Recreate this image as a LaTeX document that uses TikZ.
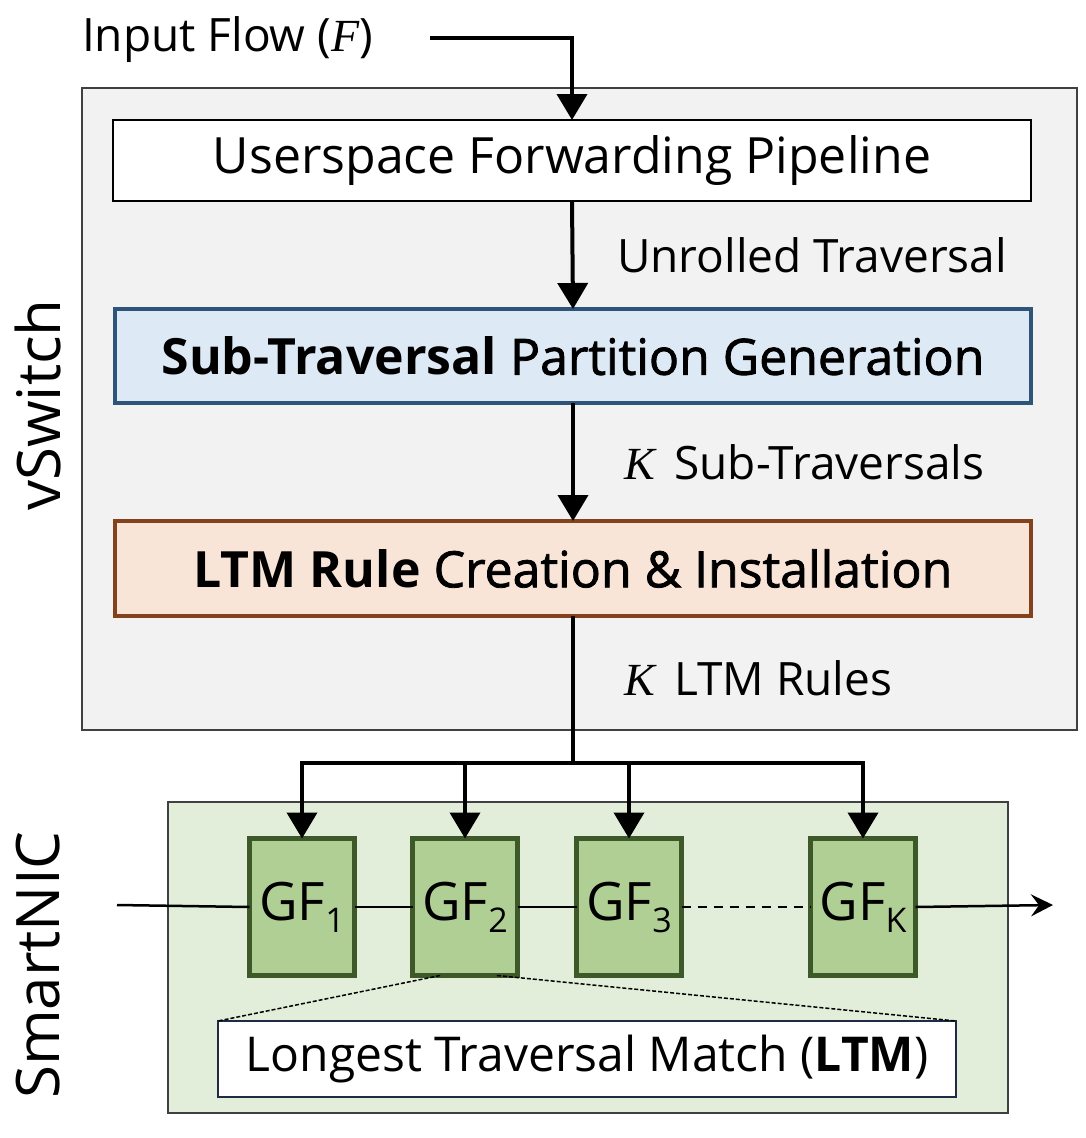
\documentclass[tikz,border=0pt]{standalone}
\usepackage{fontspec}
\setmainfont{Open Sans}
\newfontfamily\varfont{Liberation Serif}
\usetikzlibrary{arrows.meta}
\usetikzlibrary{positioning}

\definecolor{vswFill}{HTML}{F2F2F2}
\definecolor{nicFill}{HTML}{E2EEDA}
\definecolor{partFill}{HTML}{DDEAF6}
\definecolor{partLine}{HTML}{2E5579}
\definecolor{ruleFill}{HTML}{F9E5D8}
\definecolor{ruleLine}{HTML}{84421C}
\definecolor{gfFill}{HTML}{B0CF94}
\definecolor{gfLine}{HTML}{3D5829}
\definecolor{matchLine}{HTML}{1F2A44}

% half-bold text
\newcommand{\semib}{\addfontfeature{FakeBold=1.6}}
% subscript of a GF box
\newcommand{\gfsub}[1]{\raisebox{-12pt}{\fontsize{34}{38}\selectfont #1}}
% italic variable
\newcommand{\var}[1]{{\varfont\itshape #1}}

\begin{document}
\begin{tikzpicture}
[
x=1pt, y=-1pt,
every node/.style={inner sep=0pt, outer sep=0pt},
areaBox/.style={
	draw=black!75,
	line width=1.2pt},
stageBox/.style={
	rectangle,
	minimum width=918pt,
	font=\fontsize{50}{58}\selectfont},
gfBox/.style={
	rectangle,
	draw=gfLine,
	fill=gfFill,
	line width=5pt,
	minimum width=105pt,
	minimum height=137pt,
	font=\fontsize{53}{60}\selectfont},
lbl/.style={
	anchor=west,
	font=\fontsize{46}{54}\selectfont},
side/.style={
	rotate=90,
	font=\fontsize{60}{68}\selectfont},
regArr/.style={
	-{Triangle[length=26pt,width=30pt]},
	line width=4pt},
flowArr/.style={
	line width=2.5pt}
]
\useasboundingbox (0,0) rectangle (1085,1138);

% areas
\draw [areaBox, fill=vswFill] (82,88) rectangle (1077,730);
\draw [areaBox, fill=nicFill] (168,802) rectangle (1008,1113);

\node [side] (vsw) at (38,405) {vSwitch};
\node [side] (snic) at (38,965) {SmartNIC};

% vSwitch stages
\node [lbl] (inFlow) at (82,40) {Input Flow (\var{F})};
\coordinate (inStart) at (430,38);

\node [stageBox, draw=black, fill=white, line width=2.5pt, minimum height=81pt]
	(userPipe) at (572,160.5) {Userspace Forwarding Pipeline};
\node [stageBox, draw=partLine, fill=partFill, line width=4pt, minimum height=94pt, minimum width=916pt]
	(subPart) at (573,356) {\textbf{Sub-Traversal} {\semib Partition Generation}};
\node [stageBox, draw=ruleLine, fill=ruleFill, line width=4pt, minimum height=95pt, minimum width=916pt]
	(ltmCreate) at (573,568.5) {\textbf{LTM Rule} {\semib Creation \& Installation}};

\node [lbl] (lblUnroll) at (617,255) {Unrolled Traversal};
\node [lbl] (lblSub) at (624,462) {\var{K}\, Sub-Traversals};
\node [lbl] (lblRules) at (624,678) {\var{K}\, LTM Rules};

\draw [regArr] (inStart) -| (userPipe.north);
\draw [regArr] (userPipe.south) -- (subPart.north);
\draw [regArr] (subPart.south) -- (ltmCreate.north);

% SmartNIC stages
\node [gfBox] (gf1) at (302,907) {GF\gfsub{1}};
\node [gfBox] (gf2) at (465,907) {GF\gfsub{2}};
\node [gfBox] (gf3) at (629,907) {GF\gfsub{3}};
\node [gfBox] (gfk) at (863,907) {GF\gfsub{K}};

\node [rectangle, draw=matchLine, fill=white, line width=2pt, minimum width=738pt, minimum height=76pt,
	font=\fontsize{48}{54}\selectfont] (ltmMatch) at (587,1059) {Longest Traversal Match (\textbf{LTM})};

\coordinate (fork) at (573,763);
\coordinate (nicIn) at (117,905);
\coordinate (nicOut) at (1053,905);

\draw [line width=4pt] (ltmCreate.south) -- (fork);
\foreach \g in {gf1,gf2,gf3,gfk}
	\draw [regArr] (fork) -| (\g.north);

\draw [flowArr] (nicIn) -- (gf1.west);
\draw [flowArr] (gf1.east) -- (gf2.west);
\draw [flowArr] (gf2.east) -- (gf3.west);
\draw [flowArr, dash pattern=on 9pt off 7pt] (gf3.east) -- (gfk.west);
\draw [flowArr, -{Stealth[length=22pt,width=22pt,inset=8pt]}] (gfk.east) -- (nicOut);

%zoom into GF_2
\draw [line width=1.5pt, dash pattern=on 4pt off 2pt] (gf2.250) -- (ltmMatch.north west);
\draw [line width=1.5pt, dash pattern=on 4pt off 2pt] (gf2.295) -- (ltmMatch.north east);

\end{tikzpicture}
\end{document}
